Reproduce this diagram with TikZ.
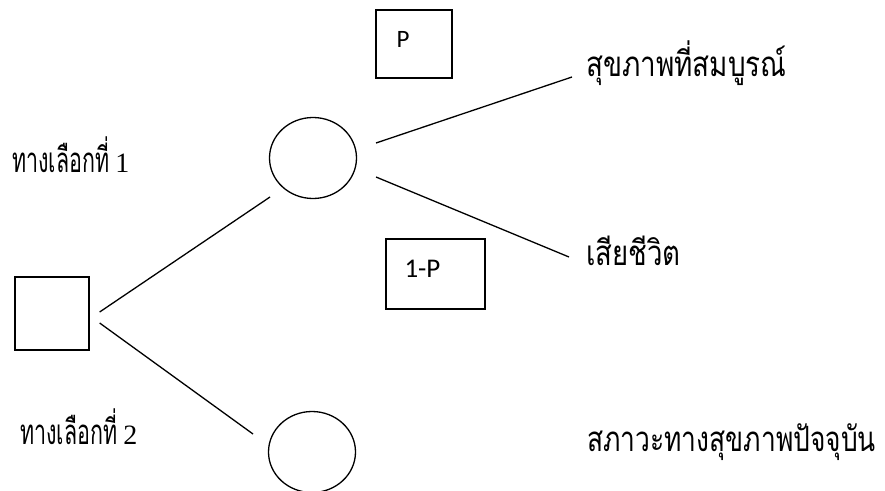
\documentclass[tikz,border=0pt]{standalone}
\usepackage{fontspec}
\usepackage{graphicx}
\newfontfamily\thaifont[Script=Thai]{Loma}
\newfontfamily\digitfont{Liberation Serif}
\newfontfamily\probfont{Carlito}
\usetikzlibrary{shapes.geometric,calc}
% tall, narrow Thai lettering; the optional argument sets the horizontal squeeze
\newcommand{\thailabel}[2][0.9]{\scalebox{#1}[1.2]{\thaifont\fontsize{29}{34}\selectfont #2}}
\newcommand{\num}[1]{{\digitfont\fontsize{28}{32}\selectfont #1}}
\begin{document}
\begin{tikzpicture}[x=1pt,y=-1pt,
  thaitext/.style={inner sep=0pt, anchor=base west},
  decision/.style={draw, line width=1.3pt, minimum width=74pt, minimum height=73pt, inner sep=0pt},
  chance/.style={draw, ellipse, line width=1.3pt, minimum width=87pt, minimum height=81pt, inner sep=0pt},
  probbox/.style={draw, line width=1.4pt, inner sep=0pt},
  probtext/.style={font=\probfont\fontsize{25}{30}\selectfont, inner sep=0pt, anchor=base west},
  branch/.style={line width=1.3pt}]
\useasboundingbox (0,0) rectangle (885,490);

% decision and chance nodes
\node[decision] (sq) at (52,313.5) {};
\node[chance] (c1) at (313,158) {};
\node[chance] (c2) at (312,452) {};

% probability boxes
\node[probbox, minimum width=76pt, minimum height=68pt] (pb) at (414,44) {};
\node[probtext] (pt) at ($(pb.north west)+(21,38)$) {P};
\node[probbox, minimum width=99pt, minimum height=70pt] (qb) at (435.5,274) {};
\node[probtext, font=\probfont\fontsize{27}{32}\selectfont] (qt) at ($(qb.north west)+(19,39)$) {1-P};

% labels
\node[thaitext] (t1) at (586,76) {\thailabel[0.96]{สุขภาพที่สมบูรณ์}};
\node[thaitext] (a1) at (12,172) {\thailabel[0.74]{ทางเลือกที่}\hspace{6pt}\num{1}};
\node[thaitext] (t3) at (586,265) {\thailabel[0.95]{เสียชีวิต}};
\node[thaitext] (a2) at (20,444) {\thailabel[0.74]{ทางเลือกที่}\hspace{6pt}\num{2}};
\node[thaitext] (t5) at (587,451) {\thailabel[0.91]{สภาวะทางสุขภาพปัจจุบัน}};

% branches
\draw[branch] ($(sq.east)+(10,-1.5)$) -- ($(c1.center)+(-43,39)$);
\draw[branch] ($(sq.east)+(10,9.5)$) -- ($(c2.center)+(-59,-18)$);
\draw[branch] ($(c1.center)+(63,-15)$) -- ($(t1.base west)+(-14,1)$);
\draw[branch] ($(c1.center)+(63,19)$) -- ($(t3.base west)+(-17,-8)$);
\end{tikzpicture}
\end{document}
